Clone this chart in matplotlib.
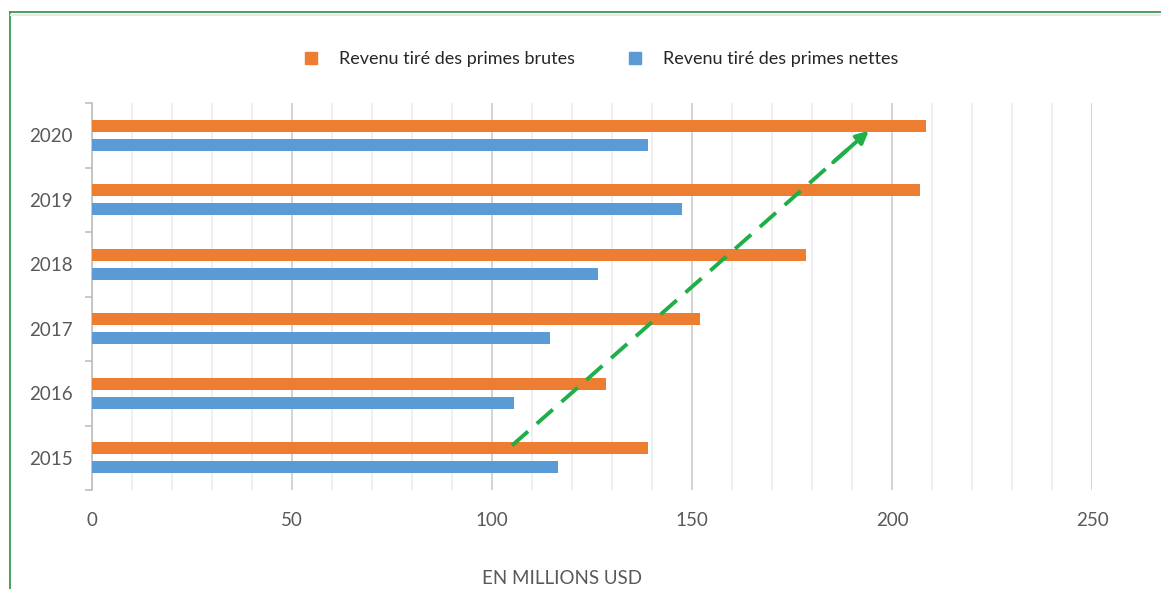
import matplotlib.pyplot as plt
import numpy as np
from matplotlib.lines import Line2D

plt.rcParams['font.family'] = ['Lato', 'DejaVu Sans']

# Revenus des primes par année (en millions USD)
years = ['2015', '2016', '2017', '2018', '2019', '2020']
primes_brutes = [139, 128.5, 152, 178.5, 207, 208.5]
primes_nettes = [116.5, 105.5, 114.5, 126.5, 147.5, 139]

orange = '#ed7d31'
blue = '#5b9bd5'
text_gray = '#595959'

fig = plt.figure(figsize=(11.61, 5.89), dpi=100)
ax = fig.add_axes([0.0792, 0.168, 0.8614, 0.657])

y = np.arange(len(years))
bar_h = 0.185
offset = 0.148
ax.barh(y + offset, primes_brutes, height=bar_h, color=orange,
        label='Revenu tiré des primes brutes', zorder=3)
ax.barh(y - offset, primes_nettes, height=bar_h, color=blue,
        label='Revenu tiré des primes nettes', zorder=3)

ax.set_xlim(0, 250)
ax.set_ylim(-0.5, len(years) - 0.5)

# grille verticale : principale tous les 50, secondaire tous les 10
ax.set_xticks(np.arange(0, 251, 50))
ax.set_xticks(np.arange(0, 251, 10), minor=True)
ax.grid(axis='x', which='major', color='#d0d0d0', lw=1.3, zorder=0)
ax.grid(axis='x', which='minor', color='#ececec', lw=1.2, zorder=0)
ax.tick_params(axis='x', which='both', length=0, pad=16, labelsize=13.5,
               labelcolor=text_gray)

ax.set_yticks(y)
ax.set_yticklabels(years)
ax.set_yticks(np.arange(-0.5, len(years), 1), minor=True)
ax.tick_params(axis='y', which='major', length=0, pad=14, labelsize=13.5,
               labelcolor=text_gray)
ax.tick_params(axis='y', which='minor', length=5, color='#bfbfbf', width=1.2)

for side in ['top', 'right', 'bottom']:
    ax.spines[side].set_visible(False)
ax.spines['left'].set_color('#bfbfbf')
ax.spines['left'].set_linewidth(1.2)

ax.set_xlabel('EN MILLIONS USD', fontsize=13.5, color=text_gray, labelpad=29,
              x=0.47)

# flèche de tendance en pointillés
x0, y0 = 105, 0.19
x1, y1 = 194.2, 5.07
green = '#1fae48'
t = 0.94
ax.plot([x0, x0 + (x1 - x0) * t], [y0, y0 + (y1 - y0) * t], color=green,
        lw=2.8, linestyle=(0, (5.5, 3)), zorder=4, solid_capstyle='butt')
ax.annotate('', xy=(x1, y1), xytext=(x0 + (x1 - x0) * 0.9, y0 + (y1 - y0) * 0.9),
            arrowprops=dict(arrowstyle='-|>', color=green, lw=2.8,
                            mutation_scale=18, shrinkA=0, shrinkB=0),
            zorder=5)

handles = [Line2D([], [], marker='s', color=orange, linestyle='none', markersize=8),
           Line2D([], [], marker='s', color=blue, linestyle='none', markersize=8)]
fig.legend(handles, ['Revenu tiré des primes brutes', 'Revenu tiré des primes nettes'],
           loc='center', bbox_to_anchor=(0.517, 0.9), ncol=2, frameon=False,
           fontsize=13, handlelength=1.0, handletextpad=1.05, columnspacing=2.8,
           labelcolor='#262626')

# cadre vert autour du graphique
fig.add_artist(Line2D([0.0082, 1.0], [0.9796, 0.9796], color='#3d9a4f', lw=1.3,
                      transform=fig.transFigure))
fig.add_artist(Line2D([0.0082, 0.0082], [0.0, 0.9796], color='#3d9a4f', lw=1.3,
                      transform=fig.transFigure))
fig.add_artist(Line2D([0.0095, 1.0], [0.9745, 0.9745], color='#e8e8e8', lw=1.5,
                      transform=fig.transFigure))

fig.savefig('out.png', dpi=100)
